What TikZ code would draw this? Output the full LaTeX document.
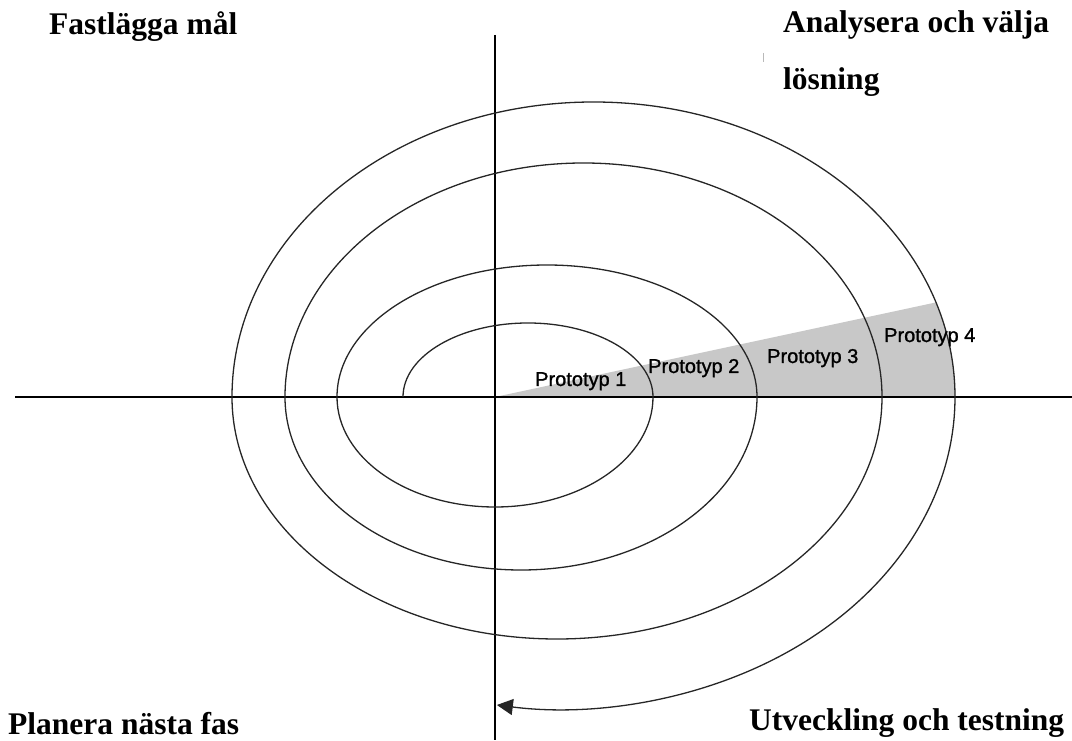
\documentclass[tikz,border=0pt]{standalone}
\usepackage{fontspec}
\setmainfont{Liberation Serif}
\newfontfamily\protofont[FakeBold=1.2]{Liberation Sans}
\usetikzlibrary{arrows.meta}
\definecolor{wedgegray}{RGB}{200,200,200}
\tikzset{
  axisline/.style={line width=1.7pt, black},
  spiralline/.style={line width=1.3pt, black!85},
  phase/.style={font=\fontsize{31.5}{36}\selectfont\bfseries, inner sep=0pt, anchor=base west},
  proto/.style={font=\protofont\fontsize{20}{24}\selectfont, inner sep=0pt, anchor=base west},
}
\begin{document}
\begin{tikzpicture}[x=1pt,y=1pt]
  \useasboundingbox (0,0) rectangle (1072,740);

  % origin of the quadrants and the axis end points
  \coordinate (O)  at (495,343);
  \coordinate (xl) at (15,343);
  \coordinate (xr) at (1072,343);
  \coordinate (yt) at (495,705);
  \coordinate (yb) at (495,0);

  % shaded prototype wedge, cut off by the outer arc
  \fill[wedgegray] (O) -- ([shift={(593.5,343)}]18.7:361.5 and 295)
    arc[start angle=18.7, end angle=0, x radius=361.5, y radius=295] -- cycle;

  % axes
  \draw[axisline] (xl) -- (xr);
  \draw[axisline] (yt) -- (yb);

  % spiral of half ellipses, ending in an arrow on the vertical axis
  \coordinate (s0) at (403,343);
  \draw[spiralline, -{Triangle[length=16pt,width=16pt]}] (s0)
    arc[start angle=180, end angle=0,    x radius=125,   y radius=74]
    arc[start angle=0,   end angle=-180, x radius=158,   y radius=110]
    arc[start angle=180, end angle=0,    x radius=210,   y radius=132]
    arc[start angle=0,   end angle=-180, x radius=236,   y radius=173]
    arc[start angle=180, end angle=0,    x radius=298.5, y radius=234]
    arc[start angle=0,   end angle=-180, x radius=325,   y radius=242]
    arc[start angle=180, end angle=0,    x radius=361.5, y radius=295]
    arc[start angle=0,   end angle=-99.2, x radius=395,  y radius=312];

  % small stray mark near the top right label
  \draw[gray!55, line width=0.8pt] (763,687) -- (763,678);

  % prototype labels
  \node[proto] (p1) at (535,354) {Prototyp 1};
  \node[proto] (p2) at (648,367) {Prototyp 2};
  \node[proto] (p3) at (767,377) {Prototyp 3};
  \node[proto] (p4) at (884,398) {Prototyp 4};

  % quadrant labels
  \node[phase] (q1) at (49,705)  {Fastlägga mål};
  \node[phase] (q2) at (783,707) {Analysera och välja};
  \node[phase] (q2b) at (783,650) {lösning};
  \node[phase] (q3) at (8,6)     {Planera nästa fas};
  \node[phase] (q4) at (749,10)  {Utveckling och testning};
\end{tikzpicture}
\end{document}
